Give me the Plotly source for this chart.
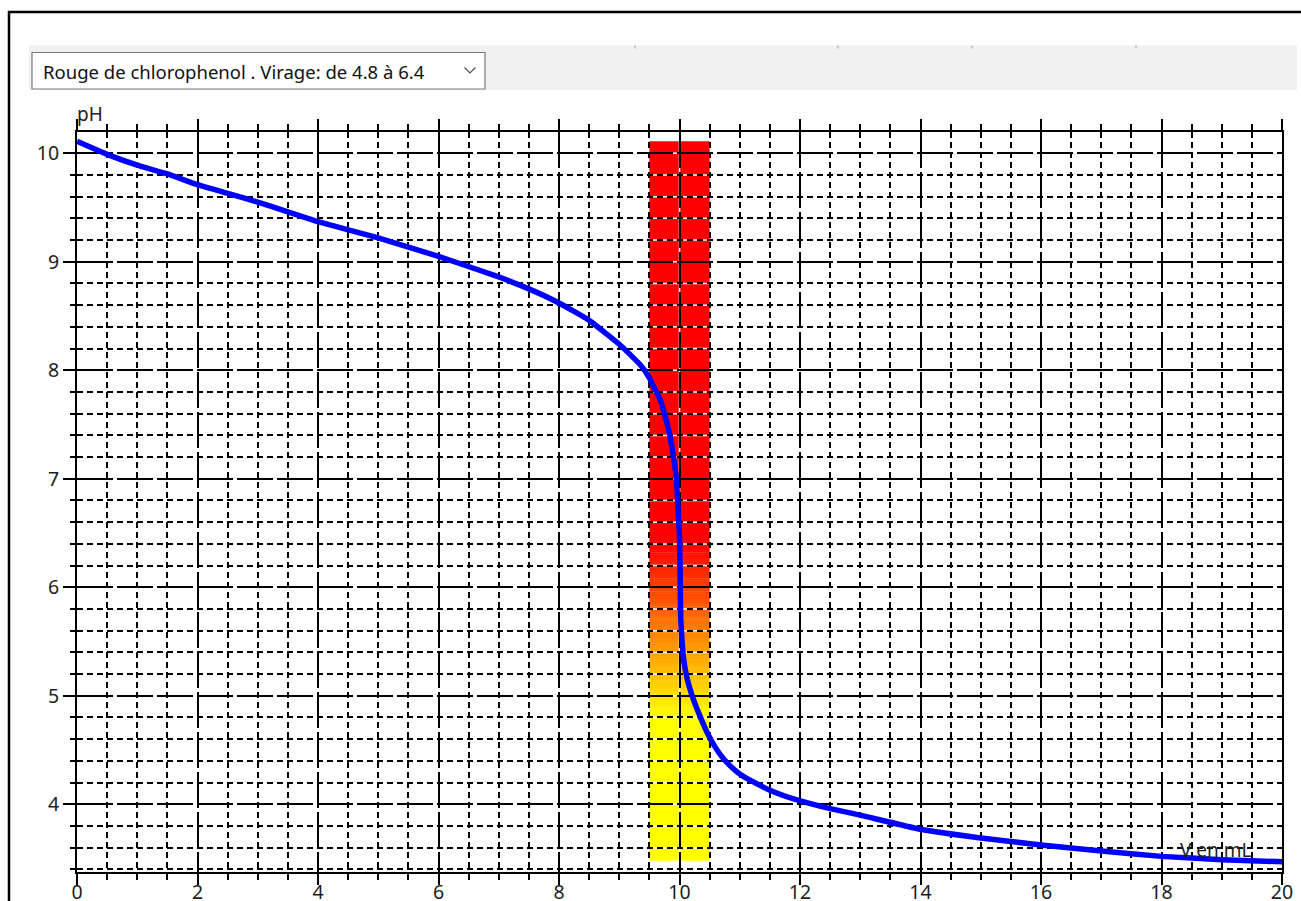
import plotly.graph_objects as go

# ---------------- data ----------------
volume_ml = [0, 0.5, 1, 1.5, 2, 2.5, 3, 3.5, 4, 5, 6, 7, 7.5, 8, 8.5, 9, 9.19, 9.35,
             9.5, 9.57, 9.68, 9.75, 9.82, 9.9, 9.95, 9.975, 10.0, 10.01, 10.02, 10.04,
             10.07, 10.13, 10.21, 10.32, 10.46, 10.6, 10.73, 10.87, 11.0, 11.18,
             11.5, 11.95, 12.5, 13, 14, 15, 16, 17, 18, 19, 20]
ph_values = [10.11, 9.99, 9.89, 9.81, 9.71, 9.63, 9.55, 9.46, 9.37, 9.22, 9.05, 8.86,
             8.75, 8.62, 8.46, 8.24, 8.14, 8.05, 7.93, 7.85, 7.73, 7.60, 7.45, 7.20,
             6.99, 6.71, 6.47, 6.16, 5.73, 5.52, 5.33, 5.15, 5.00, 4.84, 4.66, 4.52,
             4.42, 4.34, 4.28, 4.22, 4.13, 4.04, 3.96, 3.90, 3.77, 3.69, 3.625, 3.57,
             3.52, 3.49, 3.47]

x_ticks = [0, 2, 4, 6, 8, 10, 12, 14, 16, 18, 20]
y_ticks = [4, 5, 6, 7, 8, 9, 10]

indicator_label = "Rouge de chlorophenol . Virage: de 4.8 à 6.4"
indicator_turn = [4.8, 6.4]          # virage zone (pH)
indicator_band_x = [9.5, 10.5]       # band around equivalence volume
indicator_band_ph = [3.48, 10.11]    # vertical extent of the band
acid_rgb = (255, 255, 0)             # colour below the turn zone
base_rgb = (255, 0, 0)               # colour above the turn zone

x_title = "V en mL"
y_title = "pH"

# ---------------- geometry helpers ----------------
W, H = 1301, 901
L, R, T, B = 77, 19, 132, 29
PW = W - L - R
PH = H - T - B


def px(p):
    return (p - L) / PW


def py(p):
    return (H - B - p) / PH


X_RANGE = [0, 20]
Y_RANGE = [3.376, 10.196]

fig = go.Figure()

shapes = []

# ---------------- indicator colour band (below grid) ----------------
lo, hi = indicator_turn
shapes.append(dict(type="rect", xref="x", yref="y", layer="below",
                   x0=indicator_band_x[0], x1=indicator_band_x[1],
                   y0=indicator_band_ph[0], y1=lo + 0.005,
                   fillcolor="rgb(%d,%d,%d)" % acid_rgb, line=dict(width=0)))
shapes.append(dict(type="rect", xref="x", yref="y", layer="below",
                   x0=indicator_band_x[0], x1=indicator_band_x[1],
                   y0=hi - 0.005, y1=indicator_band_ph[1],
                   fillcolor="rgb(%d,%d,%d)" % base_rgb, line=dict(width=0)))
n_steps = 80
step = (hi - lo) / n_steps
for i in range(n_steps):
    y0 = lo + i * step
    t = (i + 0.5) / n_steps
    col = tuple(round(a + (b - a) * t) for a, b in zip(acid_rgb, base_rgb))
    shapes.append(dict(type="rect", xref="x", yref="y", layer="below",
                       x0=indicator_band_x[0], x1=indicator_band_x[1],
                       y0=y0, y1=y0 + step + 0.004,
                       fillcolor="rgb(%d,%d,%d)" % col, line=dict(width=0)))

# white gaps of the dashed grid over the band
k = 0
while True:
    gy = round(3.4 + 0.2 * k, 4)
    k += 1
    if gy > indicator_band_ph[1]:
        break
    if gy < indicator_band_ph[0]:
        continue
    shapes.append(dict(type="line", xref="x", yref="y", layer="below",
                       x0=indicator_band_x[0], x1=indicator_band_x[1], y0=gy, y1=gy,
                       line=dict(color="white", width=1.5)))
shapes.append(dict(type="line", xref="x", yref="y", layer="below",
                   x0=10, x1=10, y0=indicator_band_ph[0], y1=indicator_band_ph[1],
                   line=dict(color="white", width=1.5)))

# ---------------- window chrome ----------------
shapes.append(dict(type="line", xref="paper", yref="paper",
                   x0=px(8), x1=px(1301), y0=py(12), y1=py(12),
                   line=dict(color="black", width=2.5)))
shapes.append(dict(type="line", xref="paper", yref="paper",
                   x0=px(9), x1=px(9), y0=py(11), y1=py(901),
                   line=dict(color="black", width=2.5)))
shapes.append(dict(type="rect", xref="paper", yref="paper",
                   x0=px(29), x1=px(1297), y0=py(90), y1=py(45.5),
                   fillcolor="#f0f0f0", line=dict(width=0)))
for mx in [635, 838, 972, 1136]:
    shapes.append(dict(type="line", xref="paper", yref="paper",
                       x0=px(mx), x1=px(mx), y0=py(45.5), y1=py(48.5),
                       line=dict(color="#a0a0a0", width=1)))
shapes.append(dict(type="rect", xref="paper", yref="paper",
                   x0=px(32), x1=px(485), y0=py(89), y1=py(52.5),
                   fillcolor="white", line=dict(color="#7a7a7a", width=1.2)))
chev = "M %f,%f L %f,%f L %f,%f" % (px(464.5), py(67.5), px(470), py(73), px(475.5), py(67.5))
shapes.append(dict(type="path", xref="paper", yref="paper", path=chev,
                   line=dict(color="#505050", width=1.2)))

# ---------------- curve ----------------
fig.add_trace(go.Scatter(x=volume_ml, y=ph_values, mode="lines",
                         line=dict(color="#0000ff", width=5.5, shape="spline",
                                   smoothing=0.4),
                         hoverinfo="x+y"))

annotations = [
    dict(text=indicator_label, xref="paper", yref="paper", x=px(41), y=py(71),
         xanchor="left", yanchor="middle", showarrow=False,
         font=dict(family="Noto Sans", size=18.5, color="#111")),
    dict(text=y_title, xref="paper", yref="paper", x=px(75), y=py(114),
         xanchor="left", yanchor="middle", showarrow=False,
         font=dict(family="Noto Sans", size=19, color="#222")),
    dict(text=x_title, xref="paper", yref="paper", x=px(1178), y=py(850),
         xanchor="left", yanchor="middle", showarrow=False,
         font=dict(family="Noto Sans", size=19, color="#222")),
]

tickfont = dict(family="Noto Sans", size=19.5, color="#1e1e1e")

fig.update_layout(
    width=W, height=H,
    margin=dict(l=L, r=R, t=T, b=B, pad=0, autoexpand=False),
    paper_bgcolor="white", plot_bgcolor="white",
    showlegend=False,
    shapes=shapes,
    annotations=annotations,
    xaxis=dict(range=X_RANGE, tickmode="array", tickvals=x_ticks,
               ticktext=[str(v) for v in x_ticks], automargin=False,
               ticklabelstandoff=-9,
               ticks="outside", ticklen=11, tickwidth=2, tickcolor="black",
               showline=True, linewidth=2, linecolor="black", mirror="ticks",
               showgrid=True, gridcolor="black", gridwidth=1.5, griddash="30px,10px",
               zeroline=False, tickfont=tickfont, fixedrange=True,
               minor=dict(tickmode="linear", tick0=0, dtick=0.5, ticks="outside",
                          ticklen=6, tickwidth=1.5, tickcolor="black",
                          showgrid=True, gridcolor="black", gridwidth=1.5,
                          griddash="6px,4px")),
    yaxis=dict(range=Y_RANGE, tickmode="array", tickvals=y_ticks,
               ticktext=[str(v) for v in y_ticks], automargin=False,
               ticks="outside", ticklen=12, tickwidth=2, tickcolor="black",
               showline=True, linewidth=2, linecolor="black", mirror=True,
               showgrid=True, gridcolor="black", gridwidth=1.5, griddash="30px,10px",
               zeroline=False, tickfont=tickfont, fixedrange=True,
               minor=dict(tickmode="linear", tick0=0, dtick=0.2, ticks="outside",
                          ticklen=5, tickwidth=1.5, tickcolor="black",
                          showgrid=True, gridcolor="black", gridwidth=1.5,
                          griddash="6px,4px")),
)

fig.write_html("out.html")
